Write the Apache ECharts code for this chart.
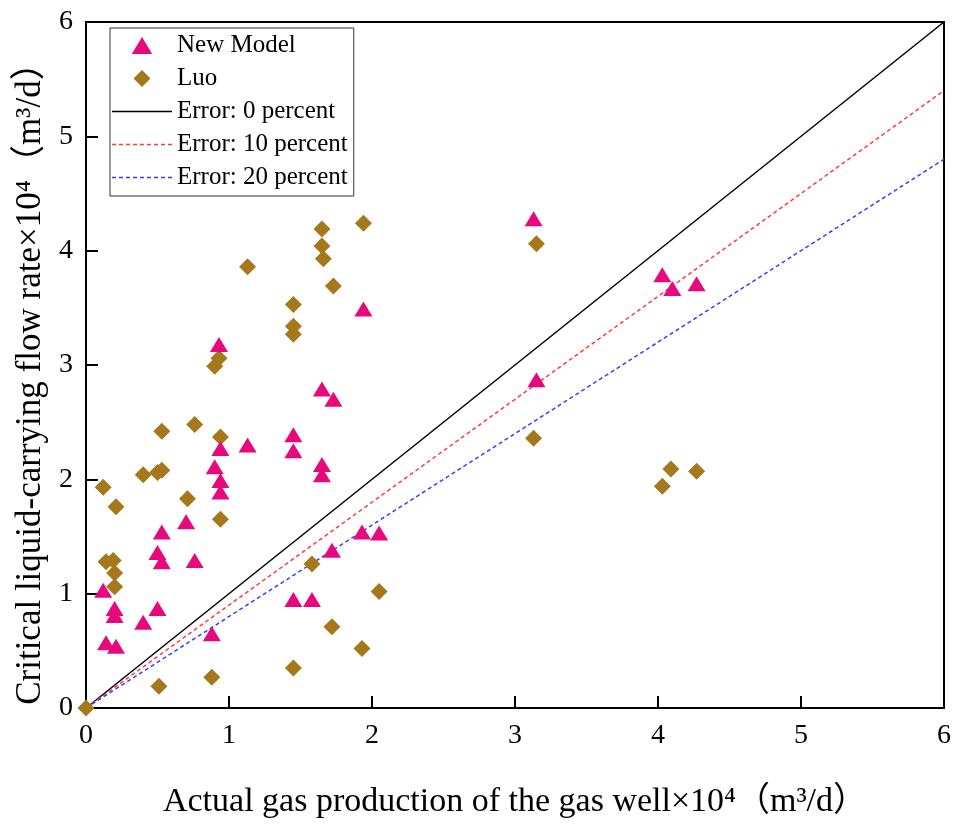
<!DOCTYPE html>
<html>
<head>
<meta charset="utf-8">
<script src="https://cdn.jsdelivr.net/npm/echarts@6/dist/echarts.min.js"></script>
<style>
  html, body { margin: 0; padding: 0; background: #fff; }
  #main { width: 960px; height: 831px; }
</style>
</head>
<body>
<div id="main"></div>
<script>
// New Model: [actual gas production, critical flow rate]
var newModel = [
  [3.13, 4.28], [4.03, 3.79], [4.10, 3.67], [4.27, 3.71], [3.15, 2.87],
  [1.94, 3.49], [0.93, 3.18], [1.65, 2.79], [1.73, 2.70],
  [1.45, 2.39], [1.45, 2.25], [1.13, 2.30], [0.94, 2.27], [0.90, 2.11],
  [0.94, 1.99], [0.94, 1.89], [1.65, 2.13], [1.65, 2.04],
  [0.70, 1.63], [0.53, 1.54], [0.50, 1.36], [0.53, 1.28], [0.76, 1.29],
  [0.12, 1.03], [0.20, 0.87], [0.20, 0.81], [0.50, 0.87], [0.40, 0.75],
  [0.14, 0.57], [0.21, 0.54], [0.88, 0.65],
  [1.93, 1.54], [2.05, 1.53], [1.72, 1.38], [1.45, 0.95], [1.58, 0.95]
];
// Luo model
var luo = [
  [1.94, 4.24], [1.65, 4.19], [1.65, 4.04], [1.66, 3.93], [1.13, 3.86],
  [1.73, 3.69], [1.45, 3.53], [1.45, 3.34], [1.45, 3.27], [0.93, 3.06],
  [0.90, 2.99], [0.76, 2.48], [0.53, 2.42], [0.94, 2.37], [0.40, 2.04],
  [0.53, 2.08], [0.50, 2.06], [0.12, 1.93], [0.21, 1.76], [0.71, 1.83],
  [0.94, 1.65], [0.14, 1.28], [0.19, 1.29], [0.20, 1.18], [0.20, 1.06],
  [0.51, 0.19], [0.88, 0.27], [0.00, 0.00],
  [3.15, 4.06], [3.13, 2.36], [4.09, 2.09], [4.27, 2.07], [4.03, 1.94],
  [1.58, 1.26], [2.05, 1.02], [1.72, 0.71], [1.93, 0.52], [1.45, 0.35]
];
// reference lines (end points)
var error0 = [[0, 0], [6, 6]];
var error10 = [[0, 0], [6, 5.4]];
var error20 = [[0, 0], [6, 4.8]];
var seriesNames = ['New Model', 'Luo', 'Error: 0 percent', 'Error: 10 percent', 'Error: 20 percent'];

var FONT = '"Liberation Serif", "Noto Sans CJK SC", serif';

// legend icons (paths keep their aspect inside the icon box)
var ICON_TRI = 'path://M9,0L18,15L0,15Z';
var ICON_DIA = 'path://M8,0L16,8L8,16L0,8Z';
var ICON_SOLID = 'path://M0,0L60,0L60,1.4L0,1.4Z';
var ICON_DASH = 'path://M0,0h4v1.4h-4Z M7,0h4v1.4h-4Z M14,0h4v1.4h-4Z M21,0h4v1.4h-4Z M28,0h4v1.4h-4Z ' +
  'M35,0h4v1.4h-4Z M42,0h4v1.4h-4Z M49,0h4v1.4h-4Z M56,0h4v1.4h-4Z';

var myChart = echarts.init(document.getElementById('main'));
var option = {
  backgroundColor: '#fff',
  animation: false,
  textStyle: { fontFamily: FONT },
  grid: {
    left: 86, right: 16, top: 22, bottom: 123,
    show: true, borderColor: '#000', borderWidth: 2, backgroundColor: 'transparent'
  },
  legend: {
    orient: 'vertical',
    left: 110, top: 28,
    padding: [5, 6, 6, 2],
    itemWidth: 60, itemHeight: 17, itemGap: 8,
    symbolKeepAspect: true,
    borderColor: '#333', borderWidth: 1,
    textStyle: { fontFamily: FONT, fontSize: 25, lineHeight: 25, color: '#000' },
    data: [
      { name: seriesNames[0], icon: ICON_TRI },
      { name: seriesNames[1], icon: ICON_DIA },
      { name: seriesNames[2], icon: ICON_SOLID },
      { name: seriesNames[3], icon: ICON_DASH },
      { name: seriesNames[4], icon: ICON_DASH }
    ]
  },
  xAxis: {
    type: 'value', min: 0, max: 6, interval: 1,
    name: 'Actual gas production of the gas well×10⁴（m³/d）',
    nameLocation: 'middle', nameGap: 77,
    nameTextStyle: { fontFamily: FONT, fontSize: 34, color: '#000' },
    axisLine: { show: true, lineStyle: { color: '#000', width: 2 } },
    axisTick: { show: true, inside: true, length: 12, lineStyle: { color: '#000', width: 2 } },
    axisLabel: { fontFamily: FONT, fontSize: 28, color: '#000', margin: 14 },
    splitLine: { show: false }
  },
  yAxis: {
    type: 'value', min: 0, max: 6, interval: 1,
    name: 'Critical liquid-carrying flow rate×10⁴（m³/d）',
    nameLocation: 'middle', nameGap: 38,
    nameTextStyle: { fontFamily: FONT, fontSize: 35, color: '#000', padding: [0, 20, 0, 0] },
    axisLine: { show: true, lineStyle: { color: '#000', width: 2 } },
    axisTick: { show: true, inside: true, length: 12, lineStyle: { color: '#000', width: 2 } },
    axisLabel: { fontFamily: FONT, fontSize: 28, color: '#000', margin: 13 },
    splitLine: { show: false }
  },
  series: [
    {
      name: seriesNames[2], type: 'line', data: error0, symbol: 'none', z: 1,
      lineStyle: { color: '#000', width: 1.5, type: 'solid' }, itemStyle: { color: '#000' }
    },
    {
      name: seriesNames[3], type: 'line', data: error10, symbol: 'none', z: 1,
      lineStyle: { color: '#ff3b3b', width: 1.5, type: [4, 3] }, itemStyle: { color: '#ff3b3b' }
    },
    {
      name: seriesNames[4], type: 'line', data: error20, symbol: 'none', z: 1,
      lineStyle: { color: '#3b3bff', width: 1.5, type: [4, 3] }, itemStyle: { color: '#3b3bff' }
    },
    {
      name: seriesNames[1], type: 'scatter', data: luo, symbol: 'diamond', symbolSize: [17, 17],
      itemStyle: { color: '#A5781B', opacity: 1 }, z: 3
    },
    {
      name: seriesNames[0], type: 'scatter', data: newModel, symbol: 'triangle', symbolSize: [18, 15],
      itemStyle: { color: '#E8087E', opacity: 1 }, z: 4
    }
  ]
};
myChart.setOption(option);
</script>
</body>
</html>
